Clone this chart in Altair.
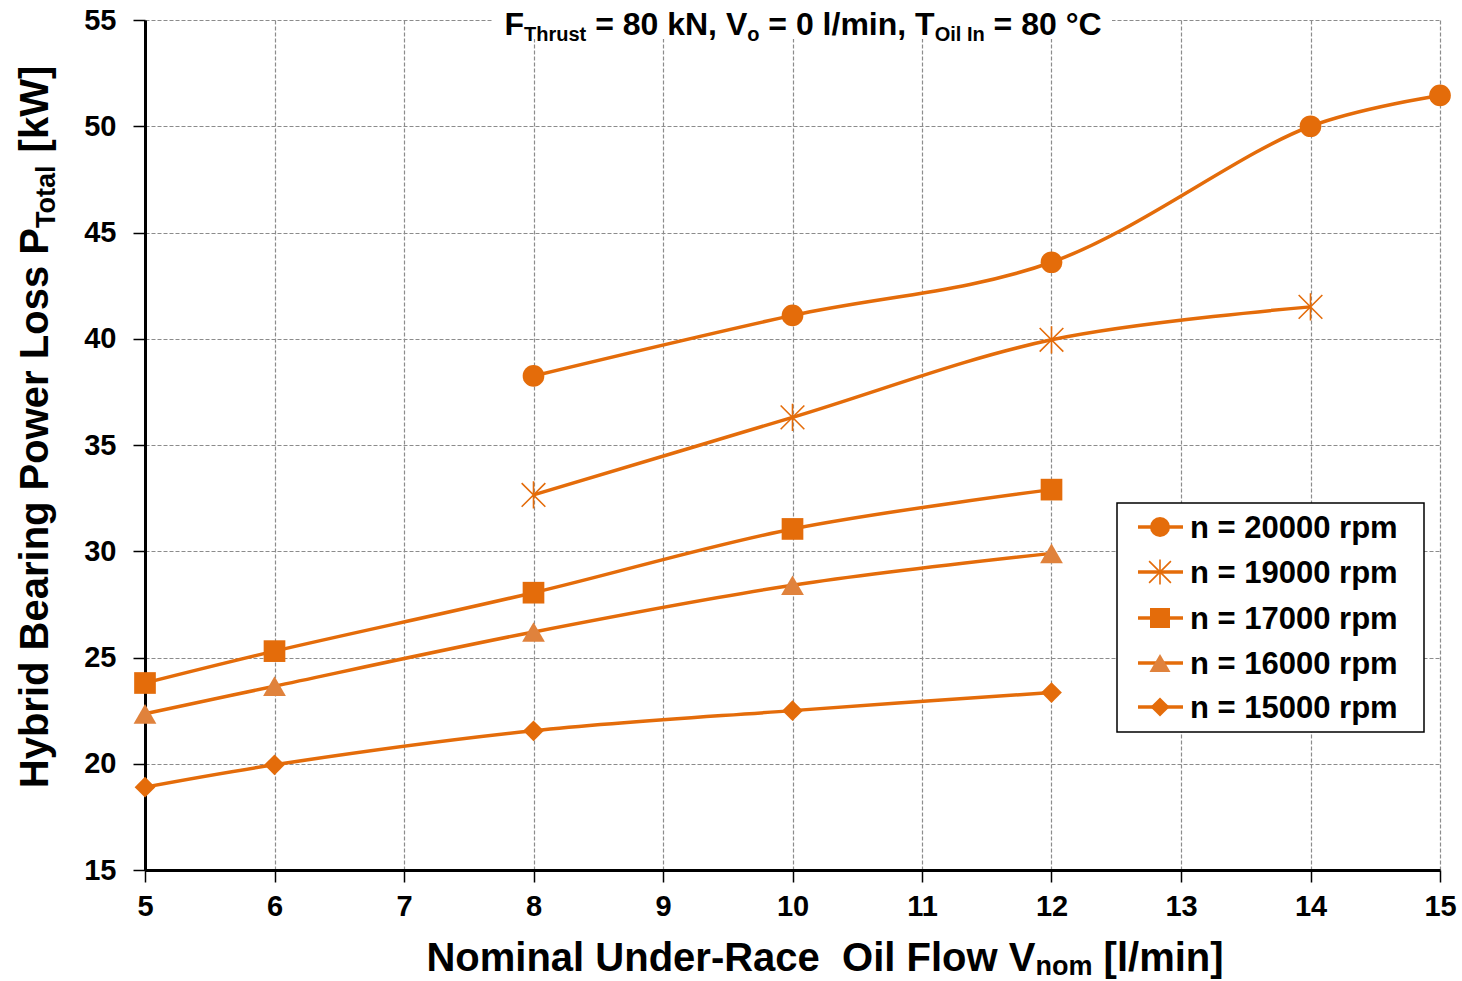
import altair as alt
import pandas as pd

# ---------------- data ----------------
flow_20000 = [8, 10, 12, 14, 15]
ploss_20000 = [38.25, 41.1, 43.6, 50.0, 51.45]
flow_19000 = [8, 10, 12, 14]
ploss_19000 = [32.65, 36.3, 39.95, 41.5]
flow_17000 = [5, 6, 8, 10, 12]
ploss_17000 = [23.8, 25.3, 28.05, 31.05, 32.9]
flow_16000 = [5, 6, 8, 10, 12]
ploss_16000 = [22.35, 23.65, 26.2, 28.4, 29.9]
flow_15000 = [5, 6, 8, 10, 12]
ploss_15000 = [18.9, 19.95, 21.55, 22.5, 23.35]

series_labels = ["n = 20000 rpm", "n = 19000 rpm", "n = 17000 rpm",
                 "n = 16000 rpm", "n = 15000 rpm"]
x_ticks = list(range(5, 16))
y_ticks = list(range(15, 56, 5))

FONT = "Liberation Sans"
ORANGE = "#E46C0A"
ORANGE_LIGHT = "#E0823C"
ASTERISK = "M-1,-1L1,1M-1,1L1,-1M0,-1.15L0,1.15"

styles = [
    dict(shape="circle", color=ORANGE, filled=True, size=470, sw=0),
    dict(shape=ASTERISK, color=ORANGE, filled=False, size=560, sw=1.6),
    dict(shape="square", color=ORANGE, filled=True, size=470, sw=0),
    dict(shape="triangle-up", color=ORANGE_LIGHT, filled=True, size=520, sw=0),
    dict(shape="diamond", color=ORANGE, filled=True, size=430, sw=0),
]
flows = [flow_20000, flow_19000, flow_17000, flow_16000, flow_15000]
plosses = [ploss_20000, ploss_19000, ploss_17000, ploss_16000, ploss_15000]

# Arial-bold advance widths (per em) for text layout
AW = {' ': .278, '-': .333, ',': .278, '.': .278, '/': .278, '[': .333, ']': .333,
      '=': .584, '°': .400}
for c in "0123456789":
    AW[c] = .556
AW.update(dict(zip("ABCDEFGHIJKLMNOPQRSTUVWXYZ",
                   [.722, .722, .722, .722, .667, .611, .778, .722, .278, .556, .722, .611, .833,
                    .722, .778, .667, .778, .722, .667, .611, .722, .667, .944, .667, .667, .611])))
AW.update(dict(zip("abcdefghijklmnopqrstuvwxyz",
                   [.556, .611, .556, .611, .556, .333, .611, .611, .278, .278, .556, .278, .889,
                    .611, .611, .611, .611, .389, .556, .333, .611, .556, .778, .556, .556, .500])))


def tw(s, size):
    return size * sum(AW.get(ch, .556) for ch in s)


one = pd.DataFrame({"d": [0]})


def txt(s, x, y, size, angle=0):
    return alt.Chart(one).mark_text(
        text=s, font=FONT, fontWeight="bold", fontSize=size, align="left",
        baseline="alphabetic", angle=angle, color="black"
    ).encode(x=alt.value(x), y=alt.value(y))


def split_space(s):
    """Return (leading-space count, stripped text); SVG drops edge spaces."""
    stripped = s.strip(" ")
    lead = len(s) - len(s.lstrip(" "))
    return lead, stripped


# ---------------- scales / axes ----------------
axis_common = dict(title=None, format="d", labelFont=FONT, labelFontSize=29,
                   labelFontWeight="bold", labelColor="black", labelFlush=False,
                   labelOverlap=False, domainColor="black", domainWidth=3,
                   tickColor="black", tickSize=12, tickWidth=1.5, grid=True,
                   gridColor="#8c8c8c", gridDash=[4, 2], gridWidth=1.2)
xenc = alt.X("flow:Q", scale=alt.Scale(domain=[5, 15], nice=False, zero=False),
             axis=alt.Axis(values=x_ticks, labelPadding=10, **axis_common))
yenc = alt.Y("ploss:Q", scale=alt.Scale(domain=[15, 55], nice=False, zero=False),
             axis=alt.Axis(values=y_ticks, labelPadding=17, **axis_common))

layers = []
for lab, fl, pl, st in zip(series_labels, flows, plosses, styles):
    df = pd.DataFrame({"flow": fl, "ploss": pl, "series": lab})
    base = alt.Chart(df)
    layers.append(base.mark_line(color=ORANGE, strokeWidth=3.5,
                                 interpolate="catmull-rom").encode(x=xenc, y=yenc))
    layers.append(base.mark_point(shape=st["shape"], size=st["size"], filled=st["filled"],
                                  color=st["color"], opacity=1,
                                  strokeWidth=st["sw"] if st["sw"] else 0.5)
                  .encode(x=xenc, y=yenc))


def horizontal_parts(parts, center_x, y_main, y_sub, m, s):
    out = []
    total = sum(tw(p, s if sub else m) for p, sub in parts)
    x = center_x - total / 2
    for p, sub in parts:
        size = s if sub else m
        lead, core = split_space(p)
        out.append(txt(core, x + lead * AW[' '] * size, y_sub if sub else y_main, size))
        x += tw(p, size)
    return out


def vertical_parts(parts, center_y, x_main, x_sub, m, s):
    out = []
    total = sum(tw(p, s if sub else m) for p, sub in parts)
    y = center_y + total / 2
    for p, sub in parts:
        size = s if sub else m
        lead, core = split_space(p)
        out.append(txt(core, x_sub if sub else x_main, y - lead * AW[' '] * size, size, angle=270))
        y -= tw(p, size)
    return out


# ---------------- title (with subscripts) ----------------
layers.append(alt.Chart(one).mark_rect(color="white").encode(
    x=alt.value(347), x2=alt.value(967), y=alt.value(-20), y2=alt.value(19)))
title_parts = [("F", 0), ("Thrust", 1), (" = 80 kN, V", 0), ("o", 1),
               (" = 0 l/min, T", 0), ("Oil In", 1), (" = 80 °C", 0)]
layers += horizontal_parts(title_parts, 658, 15, 21, 32, 20)

# ---------------- axis titles ----------------
AM, AS = 40, 27
xt_parts = [("Nominal Under-Race", 0), ("  Oil Flow V", 0), ("nom", 1), (" [l/min]", 0)]
layers += horizontal_parts(xt_parts, 680, 951, 955, AM, AS)
yt_parts = [("Hybrid Bearing Power Loss P", 0), ("Total", 1), (" [kW]", 0)]
layers += vertical_parts(yt_parts, 407, -97, -90, AM, AS)

# ---------------- legend ----------------
layers.append(alt.Chart(one).mark_rect(fill="white", stroke="black", strokeWidth=1.5).encode(
    x=alt.value(972), x2=alt.value(1279), y=alt.value(483), y2=alt.value(712)))
row_y = [507, 552, 598, 643, 687]
for lab, st, ry in zip(series_labels, styles, row_y):
    layers.append(alt.Chart(one).mark_rule(color=ORANGE, strokeWidth=3.5).encode(
        x=alt.value(993), x2=alt.value(1038), y=alt.value(ry)))
    layers.append(alt.Chart(one).mark_point(shape=st["shape"], size=st["size"] * 0.85,
                                            filled=st["filled"], color=st["color"], opacity=1,
                                            strokeWidth=st["sw"] if st["sw"] else 0.5)
                  .encode(x=alt.value(1015), y=alt.value(ry)))
    layers.append(alt.Chart(one).mark_text(
        text=lab, font=FONT, fontWeight="bold", fontSize=31, align="left",
        baseline="alphabetic", color="black").encode(x=alt.value(1045), y=alt.value(ry + 11)))

chart = alt.layer(*layers).properties(
    width=1295, height=850,
    padding={"left": 145, "top": 20, "right": 22, "bottom": 111},
    autosize=alt.AutoSizeParams(type="none"),
).configure_view(stroke=None)

chart.save("out.html", embed_options={"renderer": "svg", "actions": False})
